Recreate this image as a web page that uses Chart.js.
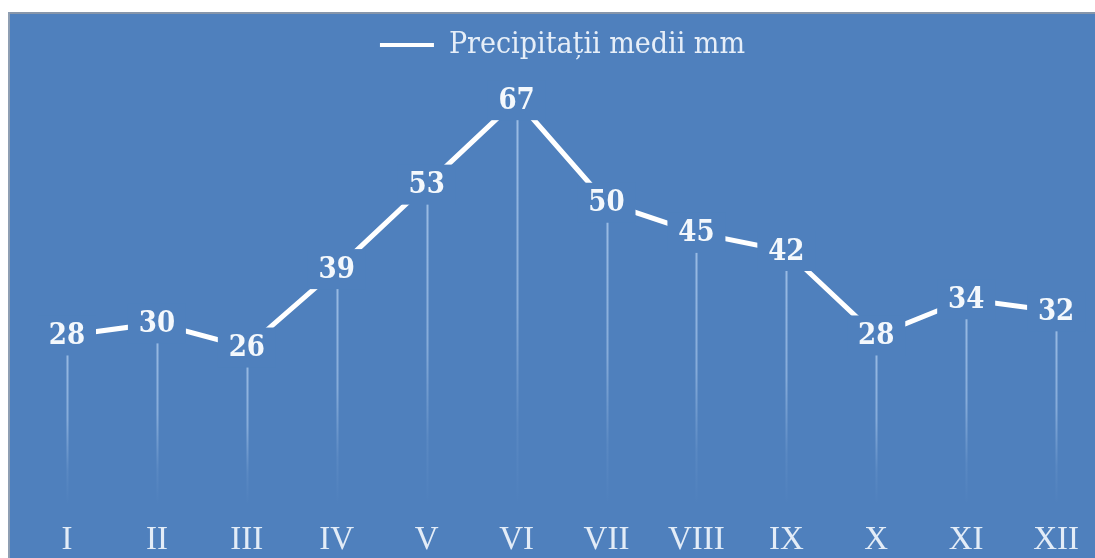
<!DOCTYPE html>
<html>
<head>
<meta charset="utf-8">
<script src="https://cdn.jsdelivr.net/npm/chart.js@4.4.1/dist/chart.umd.min.js"></script>
<style>
  html, body { margin: 0; padding: 0; background: #ffffff; }
  #wrap { width: 1095px; height: 558px; }
</style>
</head>
<body>
<div id="wrap"><canvas id="c" width="1095" height="558"></canvas></div>
<script>
const categories = ['I', 'II', 'III', 'IV', 'V', 'VI', 'VII', 'VIII', 'IX', 'X', 'XI', 'XII'];
const precipitation = [28, 30, 26, 39, 53, 67, 50, 45, 42, 28, 34, 32];
const seriesName = 'Precipitații medii mm';
const yMin = 0;
const yMax = 72;

const BLUE = '#4f80bd';

const backgroundPlugin = {
  id: 'bg',
  beforeDraw(chart) {
    const ctx = chart.ctx;
    ctx.save();
    ctx.fillStyle = '#ffffff';
    ctx.fillRect(0, 0, chart.width, chart.height);
    ctx.fillStyle = BLUE;
    ctx.fillRect(8, 13, chart.width - 8, chart.height - 13);
    ctx.fillStyle = '#8796aa';
    ctx.fillRect(8, 12, chart.width - 8, 2);
    ctx.fillStyle = '#8f9fb3';
    ctx.fillRect(8, 12, 2, chart.height - 12);
    ctx.restore();
  }
};

const dropLinesPlugin = {
  id: 'dropLines',
  beforeDatasetsDraw(chart) {
    const ctx = chart.ctx;
    const meta = chart.getDatasetMeta(0);
    const yScale = chart.scales.y;
    const bottom = yScale.getPixelForValue(yMin);
    ctx.save();
    meta.data.forEach((pt) => {
      const g = ctx.createLinearGradient(0, pt.y, 0, bottom);
      g.addColorStop(0, 'rgba(170,200,236,0.85)');
      g.addColorStop(0.5, 'rgba(170,200,236,0.6)');
      g.addColorStop(0.8, 'rgba(170,200,236,0.12)');
      g.addColorStop(1, 'rgba(170,200,236,0)');
      ctx.strokeStyle = g;
      ctx.lineWidth = 2;
      ctx.beginPath();
      ctx.moveTo(Math.round(pt.x) + 0.5, pt.y);
      ctx.lineTo(Math.round(pt.x) + 0.5, bottom);
      ctx.stroke();
    });
    ctx.restore();
  }
};

const dataLabelsPlugin = {
  id: 'valueLabels',
  afterDatasetsDraw(chart) {
    const ctx = chart.ctx;
    const meta = chart.getDatasetMeta(0);
    const values = chart.data.datasets[0].data;
    ctx.save();
    ctx.font = 'bold 29px "DejaVu Serif Condensed", "DejaVu Serif", serif';
    ctx.textAlign = 'center';
    ctx.textBaseline = 'middle';
    meta.data.forEach((pt, i) => {
      ctx.fillStyle = BLUE;
      ctx.fillRect(pt.x - 29, pt.y - 20, 58, 40);
      ctx.fillStyle = '#f4f8fc';
      ctx.fillText(String(values[i]), pt.x, pt.y + 1);
    });
    ctx.restore();
  }
};

new Chart(document.getElementById('c'), {
  type: 'line',
  data: {
    labels: categories,
    datasets: [{
      label: seriesName,
      data: precipitation,
      borderColor: '#ffffff',
      backgroundColor: '#ffffff',
      borderWidth: 5,
      pointRadius: 0,
      pointHoverRadius: 0,
      tension: 0,
      fill: false
    }]
  },
  options: {
    responsive: false,
    animation: false,
    events: [],
    layout: { padding: { left: 67, right: 37, top: 20, bottom: -18 } },
    scales: {
      x: {
        type: 'category',
        offset: false,
        grid: { display: false, drawTicks: false },
        border: { display: false },
        ticks: {
          color: '#e3ecf7',
          padding: 16,
          maxRotation: 0,
          autoSkip: false,
          font: { family: '"Liberation Serif", "Times New Roman", serif', size: 33, lineHeight: 1.2 }
        }
      },
      y: {
        display: false,
        min: yMin,
        max: yMax
      }
    },
    plugins: {
      legend: {
        position: 'top',
        align: 'center',
        labels: {
          color: '#e6eef8',
          boxWidth: 54,
          boxHeight: 4,
          padding: 10,
          font: { family: '"DejaVu Serif Condensed", "DejaVu Serif", serif', size: 30 },
          generateLabels(chart) {
            return Chart.defaults.plugins.legend.labels.generateLabels(chart).map(l => Object.assign(l, { lineWidth: 0, fillStyle: '#ffffff' }));
          }
        }
      },
      tooltip: { enabled: false }
    }
  },
  plugins: [backgroundPlugin, dropLinesPlugin, dataLabelsPlugin]
});
</script>
</body>
</html>
